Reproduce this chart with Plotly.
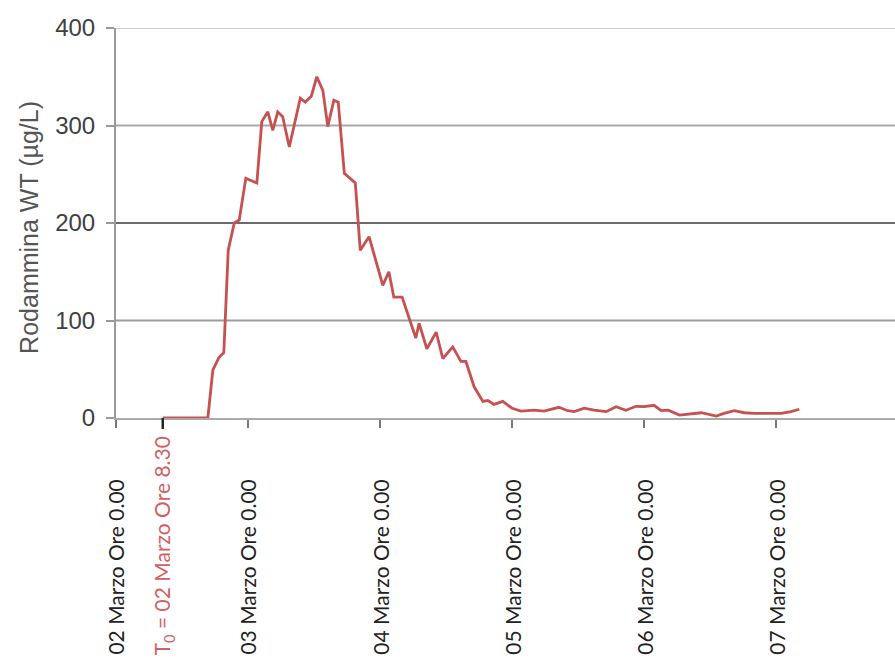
import plotly.graph_objects as go

# Rhodamine WT concentration, hours counted from 02 March 00:00
hours = [8.5, 16.7, 17.6, 18.7, 19.6, 20.4, 21.5, 22.4, 23.6, 25.6, 26.5, 27.6,
         28.5, 29.4, 30.3, 31.5, 33.5, 34.4, 35.5, 36.5, 37.6, 38.5, 39.6, 40.4,
         41.5, 43.5, 44.4, 46.0, 48.5, 49.6, 50.5, 52.0, 54.5, 55.1, 56.5, 58.2,
         59.4, 61.2, 62.7, 63.6, 65.1, 66.7, 67.6, 68.7, 70.3, 72.0, 73.6, 76.0,
         77.8, 80.5, 82.1, 83.3, 85.1, 86.9, 89.1, 90.9, 92.7, 94.5, 96.0, 97.8,
         99.1, 100.4, 102.4, 104.5, 106.4, 109.1, 110.5, 112.4, 114.2, 116.0,
         118.5, 120.9, 122.7, 124.2]
conc = [0, 0, 49, 62, 67, 172, 200, 203, 246, 241, 304, 314,
        295, 314, 309, 278, 328, 324, 330, 350, 336, 299, 326, 324,
        251, 241, 172, 186, 136, 150, 124, 124, 82, 97, 71, 88,
        61, 73, 58, 58, 32, 17, 18, 14, 17, 10, 7, 8,
        7, 11, 7.5, 6.5, 10, 8, 6.5, 11.6, 8, 12, 11.6, 13,
        7.5, 8, 3, 4, 5.4, 2, 4.8, 7.5, 5.4, 4.8,
        4.8, 4.8, 6.5, 9]

tick_hours = [0, 8.5, 24, 48, 72, 96, 120]
tick_labels = ["02 Marzo Ore 0.00", "T<sub>0</sub> = 02 Marzo Ore 8.30",
               "03 Marzo Ore 0.00", "04 Marzo Ore 0.00", "05 Marzo Ore 0.00",
               "06 Marzo Ore 0.00", "07 Marzo Ore 0.00"]
y_ticks = [0, 100, 200, 300, 400]

RED = "#c55150"
LABEL_RED = "#d2605e"
grid_colors = {100: "#9c9c9c", 200: "#6a6a6a", 300: "#a8a8a8", 400: "#cfcfcf"}

fig = go.Figure()
fig.add_trace(go.Scatter(x=hours, y=conc, mode="lines",
                         line=dict(color=RED, width=2.8), showlegend=False))

# horizontal grid lines
for v in y_ticks[1:]:
    fig.add_shape(type="line", xref="paper", yref="y", x0=0, x1=1, y0=v, y1=v,
                  line=dict(color=grid_colors[v], width=2), layer="below")

# darker tick marking the injection time T0
fig.add_shape(type="line", xref="x", yref="paper", x0=tick_hours[1], x1=tick_hours[1],
              y0=0, y1=-0.028, line=dict(color="#222222", width=2.5))

# rotated date labels, bottom-aligned
for h, lab in zip(tick_hours, tick_labels):
    is_t0 = lab.startswith("T")
    fig.add_annotation(x=h, y=-0.613, xref="x", yref="paper", text=lab,
                       textangle=-90, showarrow=False, xanchor="center",
                       yanchor="bottom",
                       font=dict(family="Lato", size=21,
                                 color=LABEL_RED if is_t0 else "#222222"))

# y-axis title
fig.add_annotation(x=-0.1117, y=0.49, xref="paper", yref="paper",
                   text="Rodammina WT (µg/L)", textangle=-90, showarrow=False,
                   xanchor="center", yanchor="middle",
                   font=dict(family="Liberation Sans", size=25, color="#555555"))

fig.update_xaxes(range=[0, 141.6], showgrid=False, zeroline=False,
                 showline=True, linecolor="#a9a9a9", linewidth=2,
                 tickmode="array", tickvals=tick_hours, ticktext=[""] * len(tick_hours),
                 ticks="outside", ticklen=8, tickwidth=2, tickcolor="#777777")
fig.update_yaxes(range=[0, 400], showgrid=False, zeroline=False,
                 showline=True, linecolor="#9a9a9a", linewidth=2,
                 tickmode="array", tickvals=y_ticks,
                 ticks="outside", ticklen=8, tickwidth=2, tickcolor="#9a9a9a",
                 ticklabelstandoff=6,
                 tickfont=dict(family="Liberation Sans", size=24, color="#404040"))

fig.update_layout(width=895, height=662, plot_bgcolor="white", paper_bgcolor="white",
                  margin=dict(l=116, r=0, t=28, b=244), showlegend=False)

fig.write_html("out.html")
